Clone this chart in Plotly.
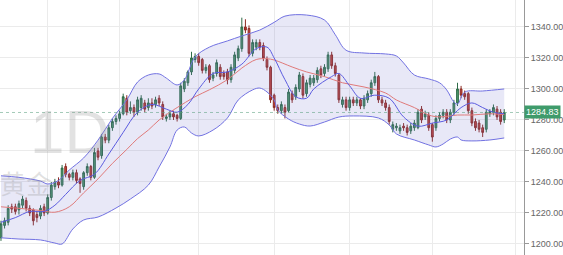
import plotly.graph_objects as go

# ---------------- data ----------------
opens = [1204,1212,1214,1224,1224,1222,1225,1228,1223,1222,1219,1218,1224,1220,1230,1237,1240,1238,1250,1245,
         1243,1246,1242,1237,1246,1250,1243,1260,1257,1269,1267,1275,1279,1281,1284,1294,1286,1288,1285,1288,
         1291,1288,1291,1290,1294,1290,1281,1282,1284,1283,1281,1300,1304,1311,1319,1321,1319,1312,1315,1307,
         1310,1314,1310,1311,1306,1312,1320,1326,1340,1339,1323,1327,1330,1328,1319,1314,1296,1288,1286,1288,
         1286,1297,1295,1300,1308,1297,1303,1304,1306,1313,1310,1313,1322,1315,1309,1290,1293,1288,1293,1291,
         1293,1289,1293,1297,1304,1308,1293,1291,1288,1274,1275,1273,1276,1275,1273,1275,1275,1287,1282,1283,
         1277,1275,1281,1283,1285,1280,1285,1291,1300,1297,1297,1286,1279,1278,1275,1274,1284,1285,1287,1285,
         1280]
highs = [1215,1217,1225,1226,1226,1228,1231,1230,1225,1223,1221,1225,1226,1232,1240,1242,1243,1251,1252,1246,
         1248,1248,1243,1247,1252,1251,1262,1262,1271,1271,1277,1281,1283,1286,1297,1296,1292,1290,1295,1296,
         1293,1294,1294,1295,1296,1292,1284,1286,1286,1284,1304,1307,1312,1324,1323,1323,1320,1316,1316,1311,
         1319,1316,1312,1313,1316,1324,1328,1346,1345,1341,1332,1332,1332,1330,1321,1315,1297,1290,1292,1290,
         1300,1299,1303,1311,1310,1306,1309,1309,1314,1315,1316,1324,1324,1317,1310,1295,1295,1295,1295,1295,
         1294,1296,1299,1306,1311,1309,1295,1293,1290,1279,1278,1277,1278,1277,1278,1280,1287,1289,1286,1285,
         1278,1283,1285,1287,1287,1287,1293,1304,1302,1299,1298,1288,1281,1280,1277,1287,1287,1290,1289,1287,
         1287]
lows = [1202,1210,1212,1220,1219,1219,1223,1221,1218,1212,1214,1216,1218,1219,1228,1235,1236,1237,1243,1241,
        1241,1239,1233,1235,1244,1241,1242,1254,1255,1265,1265,1273,1277,1279,1283,1283,1284,1282,1283,1286,
        1285,1286,1287,1288,1289,1280,1279,1280,1280,1279,1280,1298,1302,1309,1317,1315,1310,1310,1304,1305,
        1308,1306,1306,1303,1304,1310,1318,1324,1336,1321,1321,1325,1325,1318,1312,1291,1286,1284,1284,1281,
        1285,1291,1293,1298,1294,1295,1301,1302,1304,1307,1308,1311,1313,1308,1291,1288,1286,1286,1289,1289,
        1287,1287,1291,1295,1302,1291,1289,1286,1277,1272,1273,1271,1273,1270,1271,1273,1274,1278,1280,1273,
        1266,1273,1279,1281,1278,1278,1283,1289,1294,1293,1284,1276,1273,1272,1269,1272,1282,1283,1280,1277,
        1278]
closes = [1213,1215,1223,1222.5,1221,1226,1229,1223,1220,1215,1217,1223,1220,1230,1238,1240,1238,1249,1245,1243,
          1246,1241,1239,1246,1250,1243,1259,1256,1269,1267,1275,1279,1281,1284,1295,1285,1288,1285,1293,1294,
          1287,1291,1289,1293,1291,1282,1282,1284,1282,1281,1302,1305,1311,1320,1321,1317,1312,1314,1306,1309,
          1317,1308,1308,1306,1314,1322,1326,1340,1338,1323,1330,1330,1327,1320,1314,1293,1288,1286,1290,1285,
          1298,1293,1301,1309,1296,1304,1307,1307,1312,1309,1314,1322,1315,1310,1293,1293,1288,1293,1291,1293,
          1289,1294,1297,1304,1308,1293,1291,1288,1279,1277,1276,1275,1275,1272,1276,1278,1285,1280,1284,1275,
          1269,1281,1283,1285,1280,1285,1291,1300,1296,1295,1286,1278,1275,1274,1272,1285,1285.5,1288,1282,1279,
          1284.83]
days = list(range(len(closes)))

upper_idx = [0,5,11,13,16,19,23,27,31,35,38,41,44,46,49,51,54,58,63,67,72,76,79,85,90,93,96,101,107,110,112,115,119,122,124,126,127,129,134,140]
upper_val = [1244,1243,1240.6,1238.7,1241,1247.7,1255.5,1267,1281,1293,1304.5,1309,1309.7,1307,1302.6,1305.8,1320.6,1327,1331,1334.2,
             1338,1343,1347,1347.7,1344.5,1335,1325,1323.2,1322.6,1321.3,1316.8,1309,1306.5,1304,1299.4,1291.6,1290.3,1298,1298.7,1300]
lower_idx = [0,5,11,15,17,20,23,27,32,36,41,44,47,49,51,53,55,59,63,66,70,72,74,76,77,80,83,86,90,94,98,105,108,110,115,119,121,123,125,127,128,131,136,140]
lower_val = [1204,1203.2,1202.6,1200.6,1200,1209.7,1215.5,1217.4,1223.2,1229,1238,1249.7,1262.6,1273.5,1275.5,1271.6,1269.7,1273.5,1281.3,1292.9,
             1299.4,1300.6,1298.1,1292.9,1286.5,1280.6,1277.4,1276.1,1278.7,1281.9,1282.6,1281.3,1276.8,1271,1267.1,1263.9,1262.6,1264.5,1267.7,1269,
             1267.1,1266.5,1267.1,1268.4]
mid_idx = [0,5,11,15,19,23,27,31,35,38,41,44,47,49,54,58,63,67,71,74,76,81,85,90,95,101,107,110,115,119,122,127,131,136,140]
mid_val = [1224,1223,1221.6,1220.5,1224,1233,1242,1252,1261,1268,1273.5,1280,1285,1288,1295,1299.5,1306,1313.5,1319,1319.5,
           1318.7,1314.2,1311,1308,1304,1301.3,1297.4,1292.9,1288,1283.2,1282,1283.2,1283.2,1284,1283.5]
ma_idx = [0,4,8,12,15,18,22,26,30,34,38,42,46,49,52,55,59,63,67,71,74,76,79,82,85,87,92,94,97,100,104,108,112,116,120,124,128,131,134,137,140]
ma_val = [1214,1217,1221,1221,1225,1232,1241,1245,1258,1272,1285,1290,1287,1285,1290,1300,1310,1311,1316,1326,
          1327,1320,1306,1295,1294,1300,1308,1310,1302,1294,1296,1294,1282,1276,1278,1280,1288,1291,1288,1285,1284]

month_starts = [13, 33, 55, 76, 97, 120, 143]
price_ticks = [1200, 1220, 1240, 1260, 1280, 1300, 1320, 1340]
last_price = closes[-1]

# ---------------- figure ----------------
band_color = "#7272e2"
fig = go.Figure()
fig.add_trace(go.Scatter(x=upper_idx, y=upper_val, mode="lines", line=dict(color=band_color, width=1, shape="spline"),
                         hoverinfo="skip", showlegend=False))
fig.add_trace(go.Scatter(x=lower_idx, y=lower_val, mode="lines", line=dict(color=band_color, width=1, shape="spline"),
                         fill="tonexty", fillcolor="rgba(120,120,205,0.17)", hoverinfo="skip", showlegend=False))
fig.add_trace(go.Scatter(x=mid_idx, y=mid_val, mode="lines", line=dict(color="#e07a7a", width=1, shape="spline"),
                         hoverinfo="skip", showlegend=False))
fig.add_trace(go.Scatter(x=ma_idx, y=ma_val, mode="lines", line=dict(color="#5c5ce0", width=1, shape="spline"),
                         hoverinfo="skip", showlegend=False))
fig.add_trace(go.Candlestick(
    x=days, open=opens, high=highs, low=lows, close=closes,
    increasing=dict(fillcolor="#4f9a6c", line=dict(color="#2e6b47", width=1)),
    decreasing=dict(fillcolor="#c9463b", line=dict(color="#8c2a22", width=1)),
    whiskerwidth=0, showlegend=False))

fig.add_shape(type="line", xref="paper", x0=0, x1=1, yref="y", y0=last_price, y1=last_price,
              line=dict(color="rgba(90,160,125,0.55)", width=1, dash="dot"))

fig.add_annotation(text="1D", xref="paper", yref="paper", x=0.132, xanchor="center", y=0.485, yanchor="middle",
                   showarrow=False,
                   font=dict(family="Liberation Sans", size=62, color="rgba(150,150,150,0.28)"))
fig.add_annotation(text="黄金", xref="paper", yref="paper", x=-0.004, xanchor="left", y=0.283, yanchor="middle",
                   showarrow=False,
                   font=dict(family="Noto Sans CJK SC", size=26, color="rgba(150,150,150,0.28)"))
fig.add_annotation(text=f"{last_price:.2f}", xref="paper", x=1, xanchor="left", yref="y", y=last_price,
                   yanchor="middle", showarrow=False, bgcolor="#3f9b6b", borderpad=1,
                   font=dict(family="Liberation Sans", size=9, color="white"))

fig.update_layout(
    width=563, height=255, margin=dict(l=0, r=31, t=0, b=0),
    paper_bgcolor="white", plot_bgcolor="white",
    xaxis=dict(range=[-0.27, 145.5], rangeslider=dict(visible=False), tickvals=month_starts,
               showticklabels=False, showgrid=True, gridcolor="#ebebeb", gridwidth=1, zeroline=False, ticks=""),
    yaxis=dict(side="right", range=[1192.9, 1357.4], tickvals=price_ticks, tickformat=".2f",
               showgrid=True, gridcolor="#ebebeb", zeroline=False, ticks="outside", ticklen=4,
               tickcolor="#999", showline=True, linecolor="#999", linewidth=1,
               tickfont=dict(family="Liberation Sans", size=9, color="#666")),
)
fig.write_html("out.html")
